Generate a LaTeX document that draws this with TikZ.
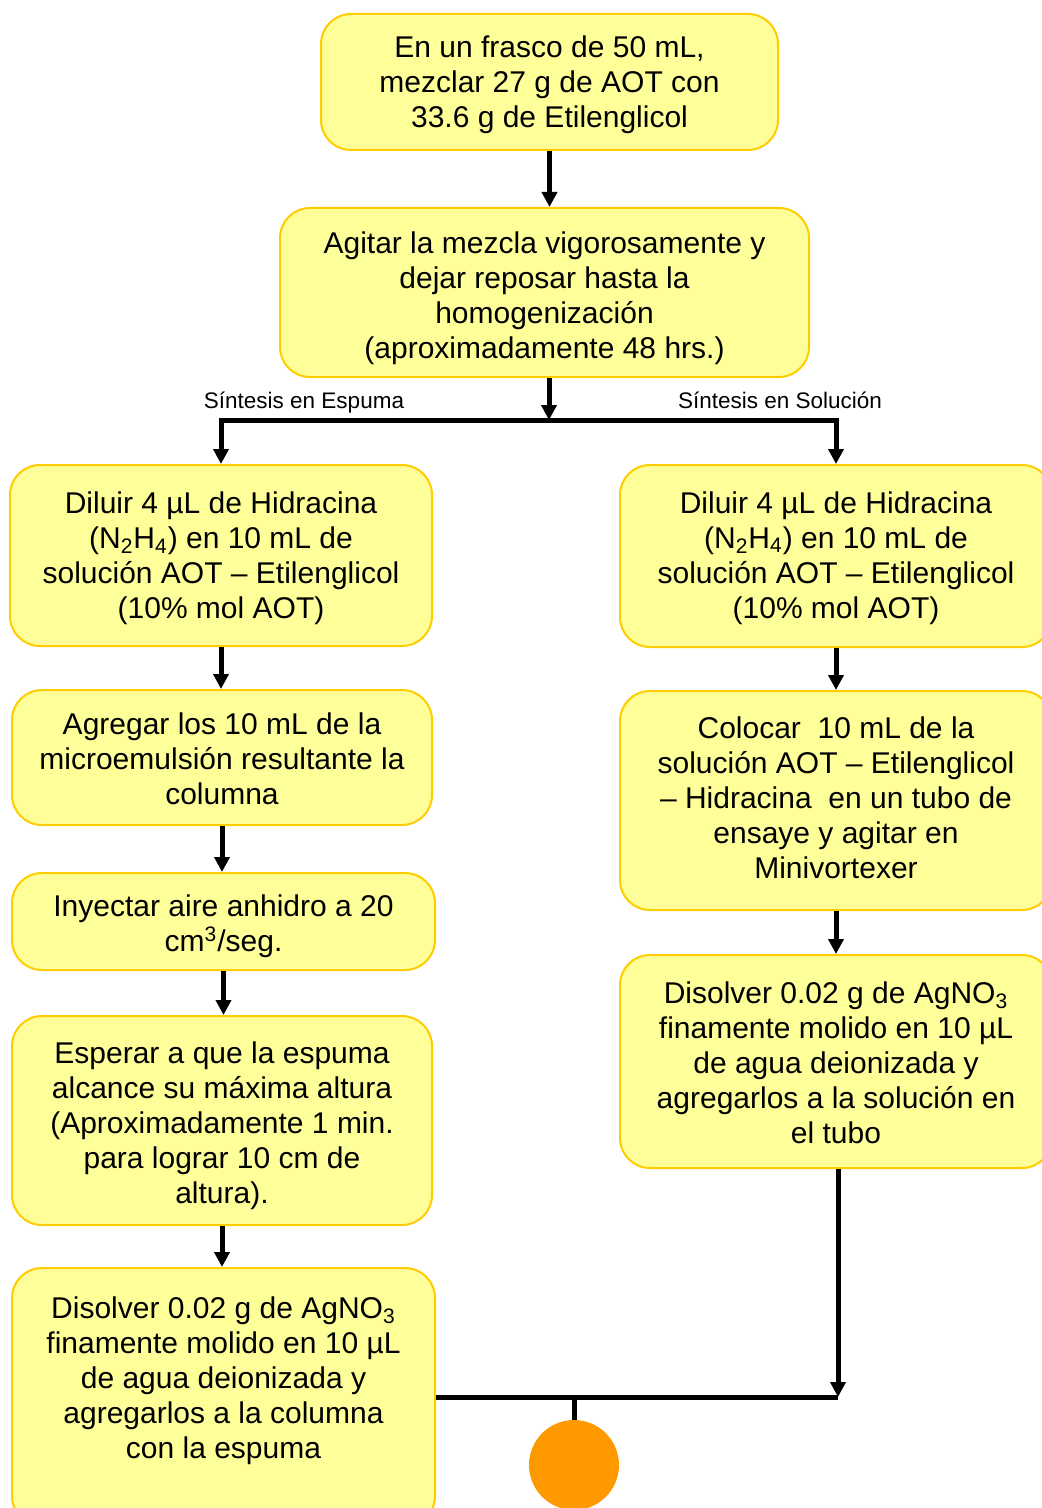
\documentclass[tikz,border=0pt]{standalone}
\usepackage{fontspec}
\setmainfont{Liberation Sans}
\usetikzlibrary{arrows.meta}
\definecolor{amarillo}{RGB}{255,255,153}
\definecolor{dorado}{RGB}{255,204,0}
\definecolor{naranja}{RGB}{255,153,0}
\newcommand{\alto}[1]{\rule{0pt}{#1}}
\newcommand{\hondo}[1]{\rule[-#1]{0pt}{#1}}
\tikzstyle{every node}=[font=\fontsize{15pt}{17.5pt}\selectfont]
\tikzstyle{paso}=[rectangle,
                  rounded corners=15pt,
                  line width=1pt,
                  draw=dorado,
                  fill=amarillo,
                  align=center,
                  inner sep=0pt]
\tikzstyle{rama}=[font=\fontsize{11.25pt}{13.5pt}\selectfont,
                  text height=9pt,
                  text depth=2.5pt]
\tikzstyle{fin}=[circle,
                 fill=naranja,
                 minimum size=45pt,
                 inner sep=0pt]
\tikzstyle{linea}=[line width=2.5pt]
\tikzstyle{flecha}=[line width=2.5pt,-{Triangle[length=7.5pt,width=7.5pt]}]
\begin{document}
\begin{tikzpicture}[x=0.5pt,y=-0.5pt]
\path[use as bounding box,clip] (0,0) rectangle (1042,1508);
\node (P_1) [paso,minimum width=228.5pt,minimum height=68pt] at (549.5,82)
  {\alto{14pt}En un frasco de 50 mL,\\mezclar 27 g de AOT con\\33.6 g de Etilenglicol};
\node (P_2) [paso,minimum width=264.5pt,minimum height=84.5pt] at (544.5,292.5)
  {\alto{17pt}Agitar la mezcla vigorosamente y\\dejar reposar hasta la\\homogenización\\(aproximadamente 48 hrs.)};
\coordinate (B) at (549,420);
\node (L_1) [rama] at (304,402) {Síntesis en Espuma};
\node (L_2) [rama] at (780,402) {Síntesis en Solución};
% columna de la espuma
\node (E_1) [paso,minimum width=211pt,minimum height=90.5pt] at (221,555.5)
  {\alto{14pt}Diluir 4 µL de Hidracina\\(N\textsubscript{2}H\textsubscript{4}) en 10 mL de\\solución AOT – Etilenglicol\\(10\% mol AOT)};
\node (E_2) [paso,minimum width=210pt,minimum height=67.5pt] at (222,757.5)
  {\alto{12pt}Agregar los 10 mL de la\\microemulsión resultante la\\columna};
\node (E_3) [paso,minimum width=211.5pt,minimum height=48.5pt] at (223.5,921.5)
  {\alto{16pt}Inyectar aire anhidro a 20\\cm\textsuperscript{3}/seg.};
\node (E_4) [paso,minimum width=210pt,minimum height=104.5pt] at (222,1120.5)
  {\alto{16pt}Esperar a que la espuma\\alcance su máxima altura\\(Aproximadamente 1 min.\\para lograr 10 cm de\\altura).};
\node (E_5) [paso,minimum width=211.5pt,minimum height=129pt] at (223.5,1397)
  {\alto{14pt}Disolver 0.02 g de AgNO\textsubscript{3}\\finamente molido en 10 µL\\de agua deionizada y\\agregarlos a la columna\\con la espuma\\\strut};
% columna de la solucion
\node (S_1) [paso,minimum width=216pt,minimum height=91pt] at (836,556)
  {\alto{13pt}Diluir 4 µL de Hidracina\\(N\textsubscript{2}H\textsubscript{4}) en 10 mL de\\solución AOT – Etilenglicol\\(10\% mol AOT)};
\node (S_2) [paso,minimum width=216pt,minimum height=109.5pt] at (836,800.5)
  {Colocar\ \ 10 mL de la\\solución AOT – Etilenglicol\\– Hidracina\ \ en un tubo de\\ensaye y agitar en\\Minivortexer\hondo{3pt}};
\node (S_3) [paso,minimum width=216pt,minimum height=106.5pt] at (836,1061.5)
  {\alto{12pt}Disolver 0.02 g de AgNO\textsubscript{3}\\finamente molido en 10 µL\\de agua deionizada y\\agregarlos a la solución en\\el tubo};
\coordinate (M) at (838,1397);
\coordinate (J) at (574,1397);
\node (Fin) [fin] at (574,1465) {};
\draw[flecha] (P_1.south) -- (P_1.south |- P_2.north);
\draw[flecha] (P_2.south -| B) -- (B);
\draw[flecha] (B) -| (E_1.north);
\draw[flecha] (B) -| (S_1.north);
\draw[flecha] (E_1.south) -- (E_1.south |- E_2.north);
\draw[flecha] (E_2.south) -- (E_2.south |- E_3.north);
\draw[flecha] (E_3.south) -- (E_3.south |- E_4.north);
\draw[flecha] (E_4.south) -- (E_4.south |- E_5.north);
\draw[flecha] (S_1) -- (S_2);
\draw[flecha] (S_2) -- (S_3);
\draw[flecha] (S_3.south -| M) -- (M);
\draw[linea] (E_5.east) -- (M);
\draw[linea] (J) -- (Fin);
\end{tikzpicture}
\end{document}
